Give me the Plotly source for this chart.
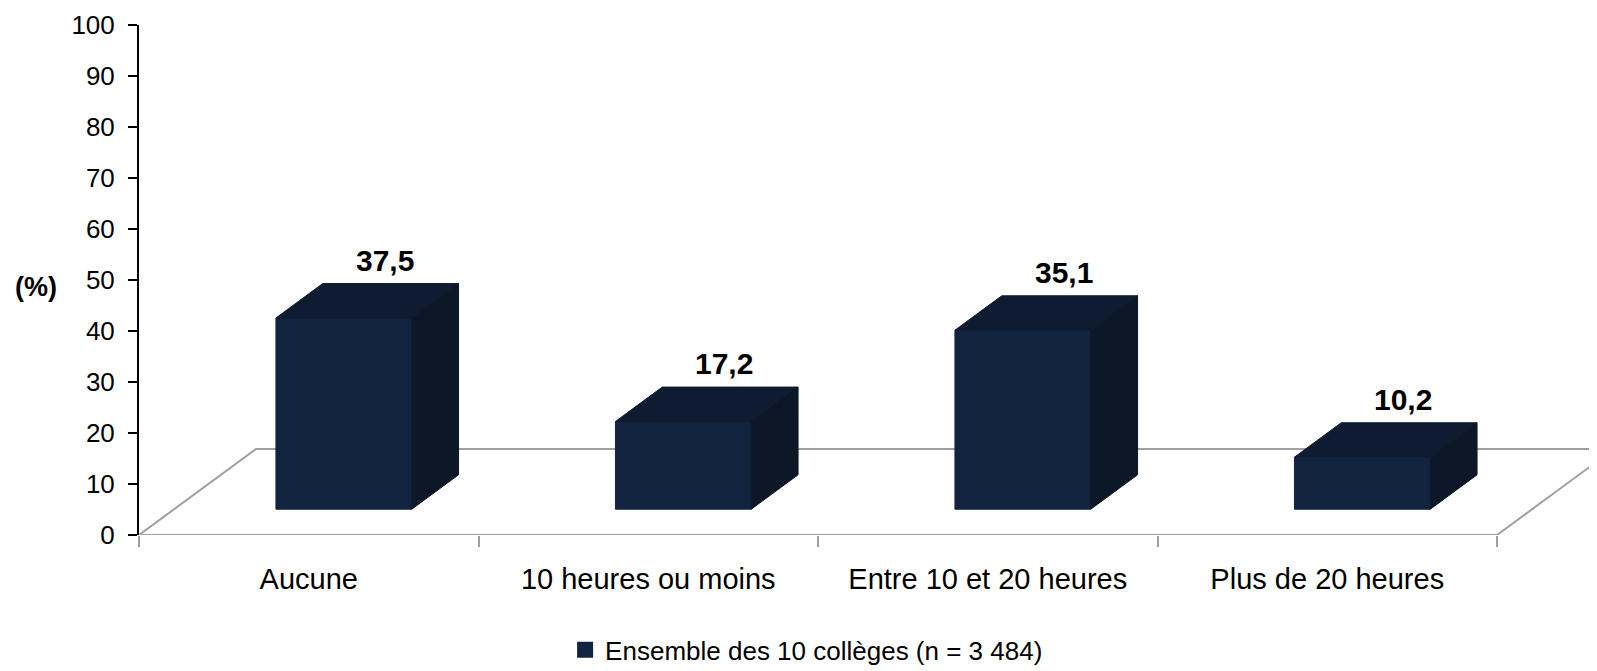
import plotly.graph_objects as go

categories = ["Aucune", "10 heures ou moins", "Entre 10 et 20 heures", "Plus de 20 heures"]
values = [37.5, 17.2, 35.1, 10.2]
value_labels = ["37,5", "17,2", "35,1", "10,2"]
series_name = "Ensemble des 10 collèges (n = 3 484)"
y_ticks = [0, 10, 20, 30, 40, 50, 60, 70, 80, 90, 100]

FONT = "Liberation Sans Narrow, Arial Narrow, Liberation Sans, Arial, sans-serif"
FRONT = "#12233f"
TOP = "#0e1b30"
SIDE = "#0c1827"

# oblique projection of the depth axis (full floor depth), in axis units
DX = 117 / 339.5
DY = 86 / 5.1
D0, D1 = 0.3, 0.7      # bar depth span
HALF = 0.2             # half bar width in category units
LEFT = 131
XMAX = 4 * (1589 - LEFT) / 1358


def proj(x, z, d):
    return x + d * DX, z + d * DY


def poly(pts, color):
    xs, ys = zip(*[proj(*p) for p in pts])
    return go.Scatter(x=list(xs) + [xs[0]], y=list(ys) + [ys[0]], fill="toself",
                      fillcolor=color, mode="lines", line=dict(color=color, width=1),
                      showlegend=False, hoverinfo="skip")


fig = go.Figure()

# floor outline
n = len(categories)
floor = [(0, 0, 0), (n, 0, 0), (n, 0, 1), (XMAX + DX, 0, 1), (n, 0, 1), (0, 0, 1), (0, 0, 0)]
fx, fy = zip(*[proj(*p) for p in floor])
fig.add_trace(go.Scatter(x=fx, y=fy, mode="lines", line=dict(color="#a0a0a0", width=2),
                         showlegend=False, hoverinfo="skip"))

for i, v in enumerate(values):
    x0, x1 = i + 0.5 - HALF, i + 0.5 + HALF
    fig.add_trace(poly([(x0, 0, D0), (x1, 0, D0), (x1, v, D0), (x0, v, D0)], FRONT))
    fig.add_trace(poly([(x0, v, D0), (x1, v, D0), (x1, v, D1), (x0, v, D1)], TOP))
    fig.add_trace(poly([(x1, 0, D0), (x1, 0, D1), (x1, v, D1), (x1, v, D0)], SIDE))
    lx, ly = proj(i + 0.5, v, 0.65)
    fig.add_annotation(x=lx, y=v + D1 * DY, text=value_labels[i], showarrow=False,
                       xanchor="center", yanchor="bottom", yshift=5,
                       font=dict(family=FONT, size=30, color="black", weight="bold"))

# legend entry
fig.add_trace(go.Scatter(x=[None], y=[None], mode="markers", name=series_name,
                         marker=dict(symbol="square", size=16, color=FRONT)))

fig.add_annotation(x=-0.0705, xref="paper", y=48.6, yref="y", text="(%)", showarrow=False,
                   xanchor="center", yanchor="middle",
                   font=dict(family=FONT, size=27, color="black", weight="bold"))

fig.update_layout(
    width=1589, height=663,
    margin=dict(l=LEFT, r=0, t=17, b=136, autoexpand=False),
    paper_bgcolor="white", plot_bgcolor="white",
    hovermode=False,
    showlegend=True,
    legend=dict(orientation="h", x=0.4579, xanchor="center", y=-0.225, yanchor="middle",
                font=dict(family=FONT, size=26, color="black")),
    xaxis=dict(range=[0, XMAX], showgrid=False, zeroline=False, showline=False,
               tickvals=[i + 0.5 for i in range(n)], ticktext=categories, ticks="",
               tickfont=dict(family=FONT, size=29, color="black"), ticklabelstandoff=24,
               minor=dict(tickvals=list(range(n + 1)), ticks="outside", ticklen=11,
                          tickcolor="#a0a0a0", tickwidth=2, showgrid=False)),
    yaxis=dict(range=[0, 100], tickvals=y_ticks, showgrid=False, zeroline=False,
               showline=True, linecolor="black", linewidth=2,
               ticks="outside", ticklen=9, tickcolor="black", tickwidth=2,
               ticklabelstandoff=8,
               tickfont=dict(family=FONT, size=26, color="black")),
)

fig.write_html("out.html")
